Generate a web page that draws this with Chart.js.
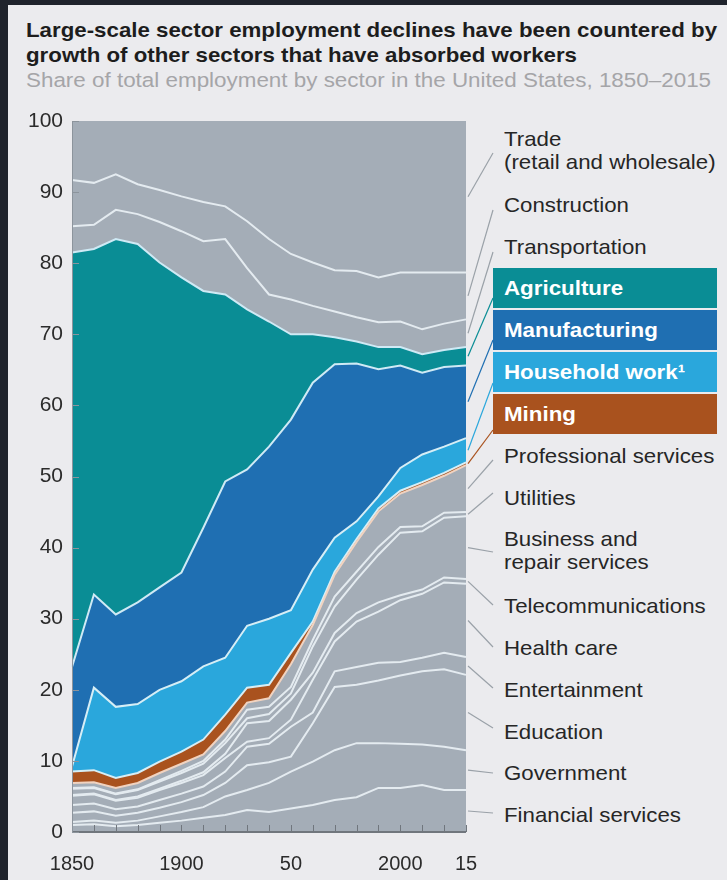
<!DOCTYPE html>
<html lang="en">
<head>
  <meta charset="UTF-8" />
  <title>Sector employment shares, US 1850–2015</title>
  <script src="https://cdn.jsdelivr.net/npm/chart.js"></script>
  <style>
    html, body { margin: 0; padding: 0; }
    body { width: 727px; height: 880px; background: #1f232c; position: relative; overflow: hidden;
           font-family: 'Liberation Sans', Arial, sans-serif; }
    #panel { position: absolute; left: 8px; top: 5px; right: 0; bottom: 0; background: #ebebee; }
    #chart { position: absolute; left: 0; top: 0; }
    .title { position: absolute; left: 26px; font-weight: bold; font-size: 20.5px; color: #1d1d1d; line-height: 25px;
             white-space: nowrap; transform: scaleX(1.087); transform-origin: 0 0; }
    .sub { position: absolute; left: 26px; top: 68px; font-size: 20.5px; color: #a5a5a8; white-space: nowrap;
           transform: scaleX(1.093); transform-origin: 0 0; }
    .lbl { position: absolute; left: 504px; font-size: 21px; line-height: 23px; color: #262626; white-space: nowrap;
           transform: scaleX(1.06); transform-origin: 0 0; }
    .box { position: absolute; left: 493px; width: 224px; height: 40px; color: #fff; }
    .box span { position: absolute; left: 11px; top: 0; line-height: 40px; font-weight: bold; font-size: 21px;
                white-space: nowrap; transform: scaleX(1.063); transform-origin: 0 0; }
  </style>
</head>
<body>
  <div id="panel"></div>
  <div class="title" style="top:17px">Large-scale sector employment declines have been countered by</div>
  <div class="title" style="top:42px">growth of other sectors that have absorbed workers</div>
  <div class="sub">Share of total employment by sector in the United States, 1850–2015</div>

  <!-- Right-hand labels -->
  <div class="lbl" style="top:127px">Trade<br>(retail and wholesale)</div>
  <div class="lbl" style="top:193px">Construction</div>
  <div class="lbl" style="top:235px">Transportation</div>
  <div class="box" style="top:268px;background:#0a8d95"><span>Agriculture</span></div>
  <div class="box" style="top:310px;background:#1f6fb2"><span>Manufacturing</span></div>
  <div class="box" style="top:352px;background:#2aa7dc"><span>Household work¹</span></div>
  <div class="box" style="top:394px;background:#a9521e"><span>Mining</span></div>
  <div class="lbl" style="top:444px">Professional services</div>
  <div class="lbl" style="top:486px">Utilities</div>
  <div class="lbl" style="top:527px">Business and<br>repair services</div>
  <div class="lbl" style="top:594px">Telecommunications</div>
  <div class="lbl" style="top:636px">Health care</div>
  <div class="lbl" style="top:678px">Entertainment</div>
  <div class="lbl" style="top:720px">Education</div>
  <div class="lbl" style="top:761px">Government</div>
  <div class="lbl" style="top:803px">Financial services</div>

  <canvas id="chart" width="727" height="880"></canvas>

  <script>
    // categories (evenly spaced in the original)
    const years = ['1850','1860','1870','1880','1890','1900','1910','1920','1930','1940',
                   '1950','1960','1970','1980','1990','2000','2005','2010','2015'];
    const xTickLabels = ['1850','','','','','1900','','','','','50','','','','','2000','','','15'];

    // share of total employment, %, bottom of the stack first
    const financial     = [1.0, 1.1, 0.8, 1.0, 1.3, 1.6, 2.0, 2.4, 3.1, 2.8, 3.3, 3.8, 4.5, 4.9, 6.2, 6.2, 6.6, 5.9, 5.9];
    const government    = [0.4, 0.5, 0.5, 0.6, 0.9, 1.2, 1.5, 2.6, 2.8, 4.1, 5.2, 6.1, 7.0, 7.6, 6.3, 6.2, 5.7, 6.1, 5.6];
    const education     = [1.3, 1.3, 1.0, 1.1, 1.2, 1.4, 1.7, 1.9, 3.5, 2.9, 2.1, 5.4, 8.9, 8.2, 8.8, 9.6, 10.3, 10.9, 10.6];
    const entertainment = [1.1, 1.1, 0.9, 0.9, 1.1, 1.2, 1.2, 1.6, 2.6, 2.6, 4.2, 1.5, 2.2, 2.5, 2.5, 1.9, 1.9, 2.3, 2.5];
    const healthCare    = [1.3, 1.3, 1.2, 1.2, 1.4, 1.5, 1.6, 1.9, 0.7, 0.8, 1.0, 4.6, 4.2, 6.4, 7.2, 8.7, 9.0, 9.9, 10.3];
    const telecom       = [0.1, 0.1, 0.1, 0.2, 0.2, 0.3, 0.4, 0.6, 2.6, 2.4, 2.8, 1.0, 1.2, 1.2, 1.3, 0.7, 0.6, 0.7, 0.7];
    const business      = [0.9, 0.8, 0.8, 0.9, 1.0, 1.1, 1.2, 1.5, 0.7, 1.0, 0.9, 3.7, 3.7, 4.7, 6.7, 8.8, 8.2, 8.4, 8.8];
    const utilities     = [0.1, 0.1, 0.1, 0.1, 0.2, 0.3, 0.4, 0.5, 1.2, 1.0, 0.9, 0.9, 1.4, 1.1, 1.1, 0.8, 0.7, 0.7, 0.6];
    const professional  = [0.7, 0.7, 0.8, 0.9, 1.0, 1.0, 0.9, 1.2, 1.0, 1.2, 3.2, 2.1, 3.1, 4.2, 5.0, 4.7, 5.8, 5.2, 6.6];
    const mining        = [1.6, 1.7, 1.4, 1.4, 1.6, 1.7, 2.1, 2.3, 2.1, 1.9, 1.6, 0.5, 0.4, 0.4, 0.4, 0.4, 0.4, 0.4, 0.4];
    const household     = [0.7, 11.6, 10.0, 9.7, 10.1, 9.9, 10.3, 8.0, 8.7, 9.3, 6.0, 7.3, 4.8, 2.5, 1.7, 3.2, 3.9, 3.7, 3.4];
    const manufacturing = [14.0, 13.1, 13.0, 14.3, 14.4, 15.3, 19.5, 24.8, 22.0, 24.2, 26.8, 26.3, 24.4, 22.2, 17.9, 14.4, 11.5, 11.2, 10.2];
    const agriculture   = [58.3, 48.6, 52.8, 50.4, 45.7, 41.5, 33.3, 26.3, 22.5, 17.6, 12.0, 6.8, 3.8, 3.1, 3.1, 2.6, 2.6, 2.4, 2.6];
    const transportation= [3.7, 3.4, 4.1, 4.2, 5.7, 6.5, 7.0, 7.8, 5.8, 3.8, 4.9, 4.0, 3.6, 3.4, 3.5, 3.6, 3.5, 3.7, 3.9];
    const construction  = [6.5, 5.9, 5.0, 4.2, 4.5, 4.9, 5.5, 4.6, 6.6, 7.8, 6.4, 6.1, 5.8, 6.5, 6.3, 6.9, 8.0, 7.2, 6.6];
    const trade         = [8.3, 8.7, 7.5, 8.9, 9.7, 10.6, 11.4, 12.0, 14.1, 16.6, 18.7, 19.9, 21.0, 21.1, 22.0, 21.3, 21.3, 21.3, 21.3];

    const GRAY = '#a4adb7', LINE = '#e4ebf0';
    const series = [
      { label: 'Financial services', data: financial, color: GRAY, line: LINE, end: 813 },
      { label: 'Government', data: government, color: GRAY, line: LINE, end: 773 },
      { label: 'Education', data: education, color: GRAY, line: LINE, end: 728 },
      { label: 'Entertainment', data: entertainment, color: GRAY, line: LINE, end: 688 },
      { label: 'Health care', data: healthCare, color: GRAY, line: LINE, end: 647 },
      { label: 'Telecommunications', data: telecom, color: GRAY, line: LINE, end: 605 },
      { label: 'Business and repair services', data: business, color: GRAY, line: LINE, end: 552 },
      { label: 'Utilities', data: utilities, color: GRAY, line: LINE, end: 493 },
      { label: 'Professional services', data: professional, color: GRAY, line: '#f1d3c0', end: 460 },
      { label: 'Mining', data: mining, color: '#a9521e', line: '#d6eef6', end: 430, conn: '#a9521e' },
      { label: 'Household work', data: household, color: '#2aa7dc', line: '#d6eef6', end: 383, conn: '#2aa7dc' },
      { label: 'Manufacturing', data: manufacturing, color: '#1f6fb2', line: '#cfeaf5', end: 340, conn: '#1f6fb2' },
      { label: 'Agriculture', data: agriculture, color: '#0a8d95', line: '#cfeaf5', end: 298, conn: '#0a8d95' },
      { label: 'Transportation', data: transportation, color: GRAY, line: LINE, end: 252 },
      { label: 'Construction', data: construction, color: GRAY, line: LINE, end: 210 },
      { label: 'Trade (retail and wholesale)', data: trade, color: GRAY, line: GRAY, end: 153 }
    ];

    // axis ticks, axis lines and the leader lines to the labels on the right
    const decorations = {
      id: 'decorations',
      afterDatasetsDraw(chart) {
        const { ctx, chartArea: a, scales: { x, y } } = chart;
        ctx.save();
        ctx.strokeStyle = '#70767d';
        ctx.lineWidth = 2;
        ctx.beginPath();
        ctx.moveTo(a.left, a.bottom); ctx.lineTo(a.right, a.bottom);
        ctx.stroke();
        ctx.lineWidth = 1;
        ctx.beginPath();
        years.forEach((_, i) => {
          const px = Math.round(x.getPixelForValue(i)) + 0.5;
          ctx.moveTo(px, a.bottom); ctx.lineTo(px, a.bottom - 7);
        });
        ctx.stroke();
        ctx.strokeStyle = '#8c949c';
        ctx.beginPath();
        ctx.moveTo(a.left + 0.5, a.top); ctx.lineTo(a.left + 0.5, a.bottom);
        for (let v = 0; v <= 100; v += 10) {
          const py = Math.round(y.getPixelForValue(v)) + 0.5;
          ctx.moveTo(a.left, py); ctx.lineTo(a.left + 7, py);
        }
        ctx.stroke();

        const last = years.length - 1;
        series.forEach((s, i) => {
          const top = chart.getDatasetMeta(i).data[last].y;
          const bottom = i === 0 ? y.getPixelForValue(0) : chart.getDatasetMeta(i - 1).data[last].y;
          ctx.strokeStyle = s.conn || '#9aa1a8';
          ctx.lineWidth = 1.2;
          ctx.beginPath();
          ctx.moveTo(a.right + 2, (top + bottom) / 2);
          ctx.lineTo(493, s.end);
          ctx.stroke();
        });
        ctx.restore();
      }
    };

    new Chart(document.getElementById('chart'), {
      type: 'line',
      data: {
        labels: years,
        datasets: series.map((s, i) => ({
          label: s.label,
          data: s.data,
          backgroundColor: s.color,
          borderColor: s.line,
          borderWidth: i === series.length - 1 ? 0 : 2,
          pointRadius: 0,
          tension: 0,
          fill: i === 0 ? 'origin' : '-1'
        }))
      },
      options: {
        responsive: false,
        animation: false,
        layout: { padding: { top: 121, right: 261, left: 0, bottom: 0 } },
        plugins: {
          legend: { display: false },
          tooltip: { enabled: false },
          filler: { drawTime: 'beforeDatasetsDraw' }
        },
        scales: {
          x: {
            offset: false,
            grid: { display: false },
            border: { display: false },
            ticks: {
              autoSkip: false, maxRotation: 0, padding: 12,
              color: '#2b2b2b', font: { family: "'Liberation Sans', Arial, sans-serif", size: 20 },
              callback: (v, i) => xTickLabels[i]
            },
            afterFit: s => { s.height = 48; }
          },
          y: {
            stacked: true, min: 0, max: 100,
            grid: { display: false, drawTicks: false },
            border: { display: false },
            ticks: {
              stepSize: 10, padding: 9,
              color: '#2b2b2b', font: { family: "'Liberation Sans', Arial, sans-serif", size: 21 }
            },
            afterFit: s => { s.width = 72; }
          }
        }
      },
      plugins: [decorations]
    });
  </script>
</body>
</html>
